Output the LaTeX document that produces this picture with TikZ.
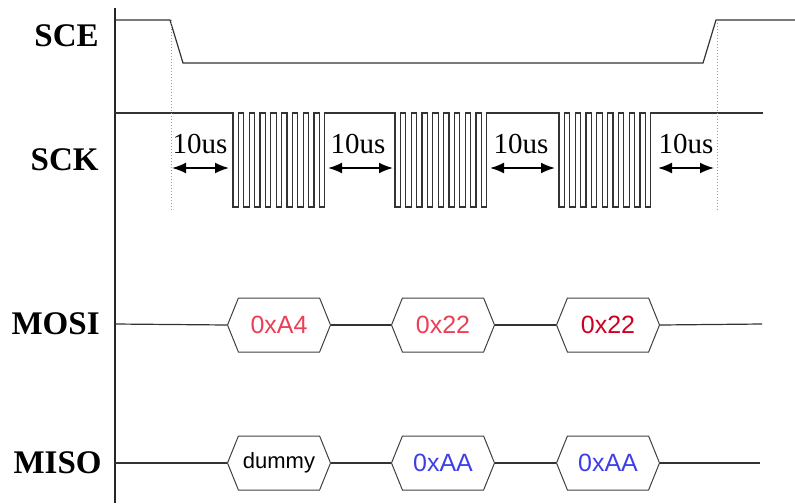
\documentclass[tikz,border=0pt]{standalone}
\usepackage{fontspec}
\setmainfont{Liberation Serif}
\setsansfont{Liberation Sans}
\usepackage{xcolor}
\usepackage{tikz}
\usetikzlibrary{shapes.symbols, arrows.meta}

\definecolor{hexred}{RGB}{236,62,84}
\definecolor{hexdark}{RGB}{204,0,32}
\definecolor{hexblue}{RGB}{62,62,232}

\begin{document}
\begin{tikzpicture}[
  x=0.5pt, y=-0.5pt,
  sig/.style={font=\fontsize{16.5}{18}\selectfont\bfseries, anchor=east, inner sep=0pt},
  wave/.style={line width=0.6pt, draw=black!80},
  guide/.style={densely dotted, line width=0.5pt, draw=black!40},
  hexbox/.style={draw=black!75, line width=0.5pt, signal, signal to=west and east, signal pointer angle=136,
    minimum width=51.5pt, minimum height=27pt, inner sep=0pt, font=\sffamily\fontsize{12.5}{14}\selectfont, text=#1},
  gap/.style={{Latex[length=7pt,width=5.5pt]}-{Latex[length=7pt,width=5.5pt]}, line width=0.9pt},
  lbl/.style={font=\fontsize{14.5}{16}\selectfont, anchor=base, inner sep=0pt}
]
\useasboundingbox (0,0) rectangle (795,503);

% ── Signal names ──
\node[sig] (sce) at (99,36) {SCE};
\node[sig] (sck) at (99,160) {SCK};
\node[sig] (mosi) at (100,324) {MOSI};
\node[sig] (miso) at (102,463) {MISO};

% time axis
\draw[line width=0.75pt, black!85] (115,8) -- (115,503);

% ── SCE ──
\draw[wave] (115,20) -- (170,20) -- (183,63) -- (703,63) -- (716,20) -- (795,20);

% ── SCK: three bursts of 8 clocks ──
\draw[wave] (115,113)
  foreach \b in {233,395,559} {
    -- (\b,113) -- (\b,207)
    foreach \k in {1,...,8} { -- ++(5.4,0) -- ++(0,-94) -- ++(5.4,0) -- ++(0,94) }
    -- ++(5.4,0) -- ++(0,-94)
  } -- (763,113);

% chip select edges
\draw[guide] (171,20) -- (171,210);
\draw[guide] (717,20) -- (717,210);

% ── 10us gaps ──
\coordinate (g1a) at (172,168);  \coordinate (g1b) at (229,168);
\coordinate (g2a) at (328,168);  \coordinate (g2b) at (393,168);
\coordinate (g3a) at (490,168);  \coordinate (g3b) at (555,168);
\coordinate (g4a) at (658,168);  \coordinate (g4b) at (714,168);
\foreach \g/\x in {g1/200, g2/358, g3/521, g4/686} {
  \draw[gap] (\g a) -- (\g b);
  \node[lbl] at (\x,153) {10us};
}

% ── MOSI bytes ──
\node[hexbox=hexred] (tx1) at (279,325) {0xA4};
\node[hexbox=hexred] (tx2) at (443,325) {0x22};
\node[hexbox=hexdark] (tx3) at (608,325) {0x22};

% ── MISO bytes ──
\node[hexbox=black] (rx1) at (279,463) {\fontsize{11}{13}\selectfont dummy};
\node[hexbox=hexblue] (rx2) at (443,463) {0xAA};
\node[hexbox=hexblue] (rx3) at (608,463) {0xAA};

% bus lines
\coordinate (txend) at (762,324);
\coordinate (rxend) at (760,463);
\draw[wave] (115,324) -- (tx1.west);
\draw[wave] (tx1.east) -- (tx2.west);
\draw[wave] (tx2.east) -- (tx3.west);
\draw[wave] (tx3.east) -- (txend);
\draw[wave] (115,463) -- (rx1.west);
\draw[wave] (rx1.east) -- (rx2.west);
\draw[wave] (rx2.east) -- (rx3.west);
\draw[wave] (rx3.east) -- (rxend);

\end{tikzpicture}
\end{document}
